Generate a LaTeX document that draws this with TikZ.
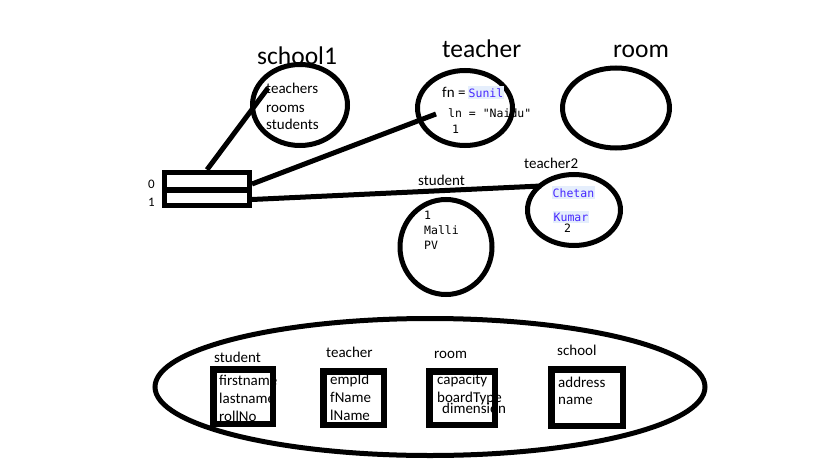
\documentclass[tikz,border=0pt]{standalone}
\usepackage{fontspec}
\setmainfont{Carlito}
\newfontfamily\codefont{DejaVu Sans Mono}
\usetikzlibrary{shapes.geometric}
\definecolor{codeblue}{RGB}{70,40,255}
\definecolor{hlblue}{RGB}{229,238,252}
\tikzset{
  obj/.style={draw, ellipse, line width=5pt, inner sep=0pt},
  title/.style={font=\fontsize{25.5}{28}\selectfont, inner sep=0pt, anchor=base west},
  lbl/.style={font=\fontsize{15}{17}\selectfont, inner sep=0pt, anchor=base west},
  code/.style={font=\codefont\fontsize{11.5}{13}\selectfont, inner sep=0pt, anchor=base west},
  hl/.style={code, fill=hlblue, text=codeblue, inner xsep=0.5pt, inner ysep=2pt},
  cell/.style={draw, line width=5pt, inner sep=0pt, minimum width=85pt},
  cls/.style={draw, line width=6.5pt, inner sep=0pt},
  link/.style={line width=5pt}
}
\begin{document}
\begin{tikzpicture}[x=1pt,y=-1pt]
\useasboundingbox[fill=white] (0,0) rectangle (819,460);

% titles
\node[title] (tSchool) at (257,64) {school1};
\node[title] (tTeacher) at (442,58) {teacher};
\node[title] (tRoom) at (613,58) {room};

% object ellipses
\node[obj, minimum width=95pt, minimum height=81pt] (school1) at (300,105) {};
\node[obj, minimum width=95pt, minimum height=75pt] (teacher) at (465,108) {};
\node[obj, minimum width=107pt, minimum height=80pt] (room) at (616,108) {};
\node[obj, minimum width=92pt, minimum height=95pt] (student) at (446,247) {};
\node[obj, minimum width=93pt, minimum height=71pt] (teacher2) at (574,210) {};

% school1 contents
\node[lbl] (s1a) at (266,93) {teachers};
\node[lbl] (s1b) at (266,112) {rooms};
\node[lbl] (s1c) at (266,129) {students};

% teacher contents
\node[lbl] (tfn) at (442,97) {fn =};
\node[hl] (tsunil) at (468,97) {Sunil};
\node[code] (tln) at (448,117) {ln = "Naidu"};
\node[code] (tid) at (452,133) {1};

% student contents
\node[lbl] (lStudent) at (418,185) {student};
\node[code] (st1) at (424,219) {1};
\node[code] (st2) at (424,234) {Malli};
\node[code] (st3) at (424,249) {PV};

% teacher2 contents
\node[lbl] (lTeacher2) at (524,168) {teacher2};
\node[hl] (t2a) at (552,197) {Chetan};
\node[hl] (t2b) at (553,221) {Kumar};
\node[code] (t2c) at (564,232) {2};

% array
\node[cell, minimum height=17.5pt] (cell0) at (207,181) {};
\node[cell, minimum height=15pt] (cell1) at (207,197.5) {};
\node[lbl, font=\fontsize{13}{15}\selectfont] (i0) at (148,188) {0};
\node[lbl, font=\fontsize{13}{15}\selectfont] (i1) at (148,206) {1};

% connectors
\coordinate (s1in) at (268,88);
\coordinate (tin) at (436,114);
\coordinate (t2in) at (541,186);
\draw[link] (cell0.north) -- (s1in);
\draw[link] ([yshift=-3pt]cell0.east) -- (tin);
\draw[link] ([yshift=-2pt]cell1.east) -- (t2in);

% class diagram
\node[obj, minimum width=550pt, minimum height=137pt] (classes) at (430,387) {};

\node[lbl] (cStudent) at (214,362) {student};
\node[cls, minimum width=59.5pt, minimum height=54.5pt] (bStudent) at (243,396.5) {};
\node[lbl] (f1) at (219,385) {firstname};
\node[lbl] (f2) at (219,403) {lastname};
\node[lbl] (f3) at (219,421) {rollNo};

\node[lbl] (cTeacher) at (326,357) {teacher};
\node[cls, minimum width=60.5pt, minimum height=53.5pt] (bTeacher) at (353.5,398) {};
\node[lbl] (g1) at (330,384) {empId};
\node[lbl] (g2) at (330,402) {fName};
\node[lbl] (g3) at (330,420) {lName};

\node[lbl] (cRoom) at (434,358) {room};
\node[cls, minimum width=65.5pt, minimum height=53.5pt] (bRoom) at (462,398) {};
\node[lbl] (h1) at (437,384) {capacity};
\node[lbl] (h2) at (437,402) {boardType};
\node[lbl] (h3) at (442,413) {dimension};

\node[lbl] (cSchool) at (557,355) {school};
\node[cls, minimum width=71.5pt, minimum height=56.5pt] (bSchool) at (587,397.5) {};
\node[lbl] (k1) at (558,387) {address};
\node[lbl] (k2) at (558,404) {name};
\end{tikzpicture}
\end{document}
